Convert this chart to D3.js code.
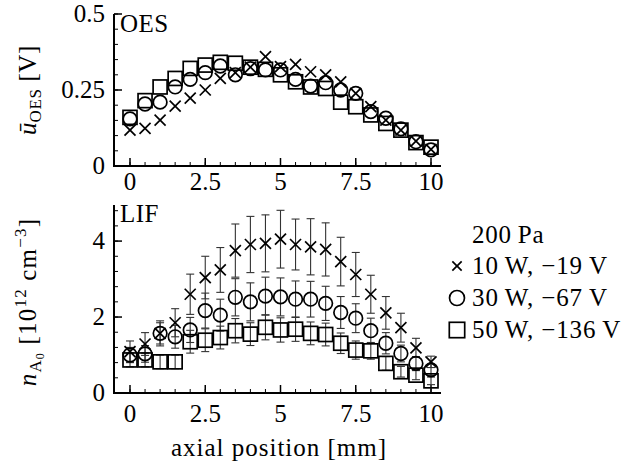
<!DOCTYPE html>
<html>
<head>
<meta charset="utf-8">
<script src="https://cdn.jsdelivr.net/npm/d3@7/dist/d3.min.js"></script>
<style>
  html, body { margin: 0; padding: 0; background: #fff; }
  svg text { font-family: "Liberation Serif", serif; fill: #000; }
</style>
</head>
<body>
<div id="chart"></div>
<script>
// axial positions [mm]
const positions = [0, 0.5, 1, 1.5, 2, 2.5, 3, 3.5, 4, 4.5, 5, 5.5, 6, 6.5, 7, 7.5, 8, 8.5, 9, 9.5, 10]

// OES mean voltage [V]
const oes10 = [0.118, 0.124, 0.151, 0.197, 0.223, 0.25, 0.288, 0.307, 0.325, 0.36, 0.327, 0.334, 0.31, 0.30, 0.277, 0.239, 0.195, 0.151, 0.118, 0.082, 0.055]
const oes30 = [0.155, 0.204, 0.21, 0.26, 0.285, 0.307, 0.329, 0.30, 0.32, 0.316, 0.316, 0.285, 0.263, 0.274, 0.25, 0.239, 0.179, 0.157, 0.122, 0.08, 0.053]
const oes50 = [0.16, 0.215, 0.26, 0.288, 0.321, 0.332, 0.341, 0.338, 0.325, 0.318, 0.30, 0.277, 0.26, 0.255, 0.21, 0.195, 0.168, 0.14, 0.118, 0.077, 0.062]

// LIF density [1e12 cm^-3] with errors
const lif10 = [1.09, 1.29, 1.57, 1.85, 2.6, 3.04, 3.24, 3.75, 3.91, 3.94, 4.05, 3.91, 3.85, 3.78, 3.46, 3.12, 2.6, 2.11, 1.72, 1.19, 0.82]
const lif10Err = [0.28, 0.3, 0.33, 0.37, 0.53, 0.56, 0.59, 0.7, 0.74, 0.75, 0.76, 0.67, 0.74, 0.7, 0.64, 0.58, 0.5, 0.43, 0.38, 0.25, 0.15]
const lif30 = [1.0, 1.03, 1.57, 1.48, 1.66, 2.17, 2.05, 2.52, 2.40, 2.55, 2.53, 2.47, 2.47, 2.36, 2.12, 1.97, 1.64, 1.31, 1.04, 0.78, 0.61]
const lif30Err = [0.2, 0.22, 0.28, 0.3, 0.33, 0.46, 0.42, 0.49, 0.5, 0.5, 0.5, 0.48, 0.47, 0.45, 0.42, 0.38, 0.33, 0.28, 0.22, 0.18, 0.15]
const lif50 = [0.87, 0.87, 0.82, 0.82, 1.35, 1.39, 1.46, 1.64, 1.55, 1.73, 1.66, 1.68, 1.57, 1.54, 1.31, 1.13, 1.11, 0.78, 0.56, 0.47, 0.32]
const lif50Err = [0.18, 0.18, 0.18, 0.18, 0.3, 0.3, 0.3, 0.32, 0.3, 0.33, 0.32, 0.32, 0.3, 0.3, 0.27, 0.24, 0.22, 0.18, 0.14, 0.12, 0.1]

// tick values
const xTicks = [0, 2.5, 5, 7.5, 10]
const xTickLabels = ['0', '2.5', '5', '7.5', '10']
const oesTicks = [0, 0.25, 0.5]
const oesTickLabels = ['0', '0.25', '0.5']
const lifTicks = [0, 2, 4]
const lifTickLabels = ['0', '2', '4']

const legendTitle = '200\u2009Pa'
const legendLabels = ['10\u2009W, \u221219\u2009V', '30\u2009W, \u221267\u2009V', '50\u2009W, \u2212136\u2009V']
const markerKinds = ['cross', 'circle', 'square']

const width = 627
const height = 466
const axisX = 114
const fs = 25

const svg = d3.select('#chart')
  .append('svg')
  .attr('width', width)
  .attr('height', height)
  .attr('font-family', 'Liberation Serif, serif')

const x = d3.scaleLinear().domain([0, 10]).range([130, 431])
const yOes = d3.scaleLinear().domain([0, 0.5]).range([166, 14])
const yLif = d3.scaleLinear().domain([0, 4.95]).range([393, 205])

// draws one marker shape at (cx, cy)
function marker(g, kind, cx, cy, scale = 1) {
  const s = g.append('g').attr('fill', 'none').attr('stroke', '#000').attr('stroke-width', 1.7)
  if (kind === 'cross') {
    const h = 5.5 * scale
    s.append('line').attr('x1', cx - h).attr('y1', cy - h).attr('x2', cx + h).attr('y2', cy + h)
    s.append('line').attr('x1', cx - h).attr('y1', cy + h).attr('x2', cx + h).attr('y2', cy - h)
  } else if (kind === 'circle') {
    s.append('circle').attr('cx', cx).attr('cy', cy).attr('r', 6.8 * scale)
  } else {
    const h = 7 * scale
    s.append('rect').attr('x', cx - h).attr('y', cy - h).attr('width', 2 * h).attr('height', 2 * h)
  }
}

function drawAxes(y, ticks, labels, minorStep, yTop, labelY) {
  const g = svg.append('g')
  const y0 = y(0)
  // axis lines
  g.append('line').attr('x1', axisX).attr('x2', axisX).attr('y1', y0).attr('y2', yTop)
    .attr('stroke', '#000').attr('stroke-width', 2)
  g.append('line').attr('x1', axisX - 1).attr('x2', 441).attr('y1', y0).attr('y2', y0)
    .attr('stroke', '#000').attr('stroke-width', 2)

  // y ticks (inward)
  const yMinor = d3.range(0, y.domain()[1] + 1e-9, minorStep)
  g.selectAll(null).data(yMinor).join('line')
    .attr('x1', axisX).attr('x2', axisX + 4)
    .attr('y1', d => y(d)).attr('y2', d => y(d))
    .attr('stroke', '#000').attr('stroke-width', 1)
  g.selectAll(null).data(ticks).join('line')
    .attr('x1', axisX).attr('x2', axisX + 8)
    .attr('y1', d => y(d)).attr('y2', d => y(d))
    .attr('stroke', '#000').attr('stroke-width', 1.5)
  g.selectAll(null).data(ticks).join('text')
    .attr('x', axisX - 9).attr('y', d => y(d) + 8)
    .attr('text-anchor', 'end').attr('font-size', fs)
    .text((d, i) => labels[i])

  // x ticks (inward)
  const xMinor = d3.range(0, 10.01, 0.5)
  g.selectAll(null).data(xMinor).join('line')
    .attr('x1', d => x(d)).attr('x2', d => x(d))
    .attr('y1', y0).attr('y2', y0 - 4)
    .attr('stroke', '#000').attr('stroke-width', 1)
  g.selectAll(null).data(xTicks).join('line')
    .attr('x1', d => x(d)).attr('x2', d => x(d))
    .attr('y1', y0).attr('y2', y0 - 8)
    .attr('stroke', '#000').attr('stroke-width', 1.5)
  g.selectAll(null).data(xTicks).join('text')
    .attr('x', d => x(d)).attr('y', labelY)
    .attr('text-anchor', 'middle').attr('font-size', fs)
    .text((d, i) => xTickLabels[i])
}

drawAxes(yOes, oesTicks, oesTickLabels, 0.05, 14, 190)
drawAxes(yLif, lifTicks, lifTickLabels, 0.4, 205, 422)

// panel labels
svg.append('text').attr('x', 120).attr('y', 32).attr('font-size', fs).attr('letter-spacing', 0.5).text('OES')
svg.append('text').attr('x', 120).attr('y', 222).attr('font-size', fs).attr('letter-spacing', 0.5).text('LIF')

// OES series
const oesSeries = [oes50, oes30, oes10]
const oesKinds = ['square', 'circle', 'cross']
const gOes = svg.append('g')
oesSeries.forEach((vals, k) => {
  vals.forEach((v, i) => marker(gOes, oesKinds[k], x(positions[i]), yOes(v)))
})

// LIF series with error bars
const lifSeries = [[lif50, lif50Err, 'square'], [lif30, lif30Err, 'circle'], [lif10, lif10Err, 'cross']]
const gLif = svg.append('g')
lifSeries.forEach(([vals, errs]) => {
  vals.forEach((v, i) => {
    const cx = x(positions[i])
    const lo = yLif(v - errs[i])
    const hi = yLif(v + errs[i])
    const eb = gLif.append('g').attr('stroke', '#333').attr('stroke-width', 1.1)
    eb.append('line').attr('x1', cx).attr('x2', cx).attr('y1', lo).attr('y2', hi)
    eb.append('line').attr('x1', cx - 4).attr('x2', cx + 4).attr('y1', lo).attr('y2', lo)
    eb.append('line').attr('x1', cx - 4).attr('x2', cx + 4).attr('y1', hi).attr('y2', hi)
  })
})
lifSeries.forEach(([vals, , kind]) => {
  vals.forEach((v, i) => marker(gLif, kind, x(positions[i]), yLif(v)))
})

// axis titles
const t1 = svg.append('text')
  .attr('transform', 'translate(36,90) rotate(-90)')
  .attr('text-anchor', 'middle').attr('font-size', fs)
t1.append('tspan').attr('font-style', 'italic').text('\u016b')
t1.append('tspan').attr('font-size', 17).attr('dy', 5).attr('letter-spacing', 0.6).text('OES')
t1.append('tspan').attr('dy', -5).attr('letter-spacing', 0.6).text(' [V]')

const t2 = svg.append('text')
  .attr('transform', 'translate(36,302) rotate(-90)')
  .attr('text-anchor', 'middle').attr('font-size', fs).attr('letter-spacing', 1.2)
t2.append('tspan').attr('font-style', 'italic').text('n')
t2.append('tspan').attr('font-size', 17).attr('dy', 5).text('A')
t2.append('tspan').attr('font-size', 12).attr('dy', 3).text('0')
t2.append('tspan').attr('dy', -8).text(' [10')
t2.append('tspan').attr('font-size', 17).attr('dy', -10).text('12')
t2.append('tspan').attr('dy', 10).text(' cm')
t2.append('tspan').attr('font-size', 17).attr('dy', -10).text('\u22123')
t2.append('tspan').attr('dy', 10).text(']')

svg.append('text').attr('x', 279).attr('y', 456)
  .attr('text-anchor', 'middle').attr('font-size', fs).attr('letter-spacing', 1)
  .text('axial position [mm]')

// legend
const lg = svg.append('g')
lg.append('text').attr('x', 472).attr('y', 243).attr('font-size', fs).attr('letter-spacing', 0.8).text(legendTitle)
legendLabels.forEach((lab, i) => {
  const by = 274 + i * 32
  marker(lg, markerKinds[i], 457, by - 8, i === 0 ? 0.85 : 1.1)
  lg.append('text').attr('x', 472).attr('y', by).attr('font-size', fs).attr('letter-spacing', 0.9).text(lab)
})
</script>
</body>
</html>
